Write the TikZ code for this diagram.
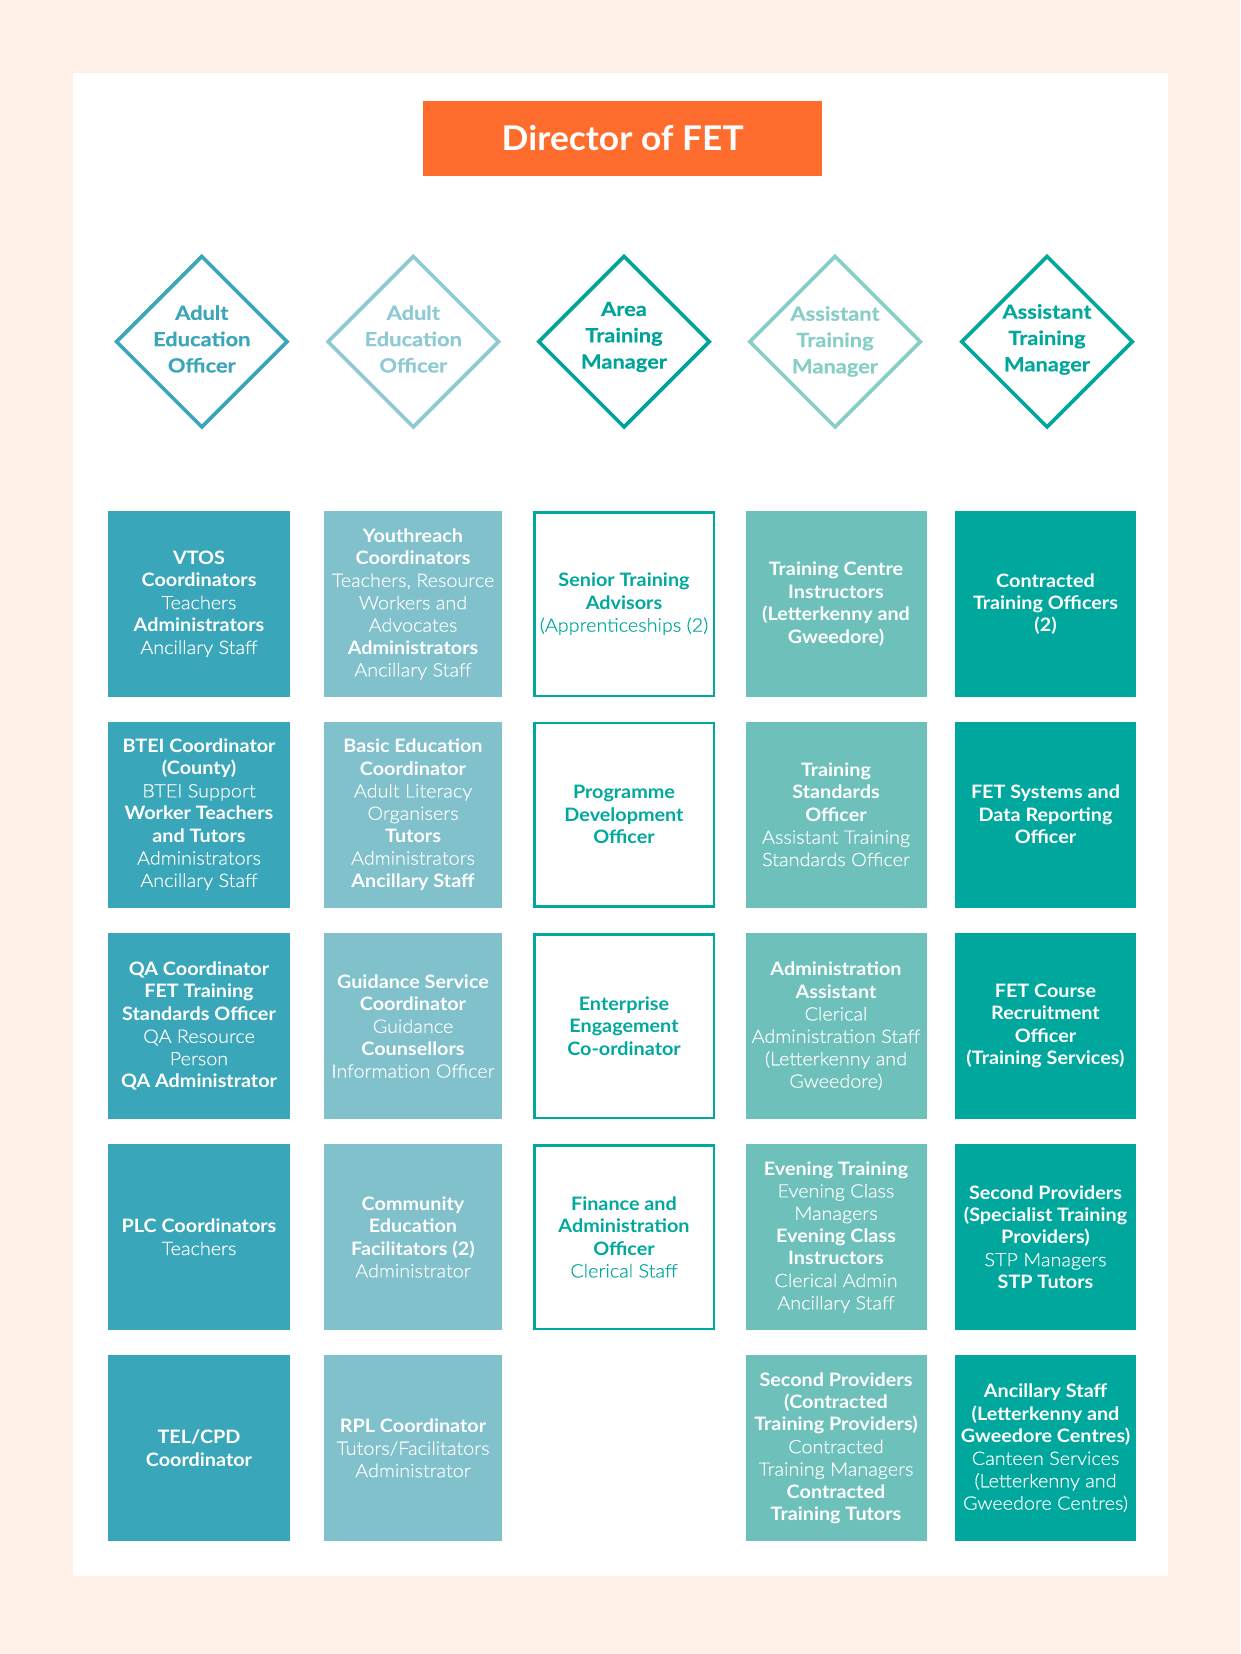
\documentclass[tikz,border=0pt]{standalone}
\usepackage{fontspec}
\setmainfont{Lato}
\newfontfamily\lightf{Lato Light}[FakeStretch=1.07,FakeBold=0.3]
\newfontfamily\boldf{Lato Bold}[FakeStretch=1.07]
\newfontfamily\diaf{Lato Bold}[FakeStretch=1.12,FakeBold=0.4]
\newfontfamily\headf{Lato Bold}[FakeStretch=1.04]
\usetikzlibrary{shapes.geometric}
\definecolor{bgc}{RGB}{254,240,231}
\definecolor{orangec}{RGB}{255,109,46}
\definecolor{cone}{RGB}{58,166,185}
\definecolor{ctwo}{RGB}{128,193,204}
\definecolor{cthree}{RGB}{0,168,157}
\definecolor{cfour}{RGB}{110,193,186}
\definecolor{cfive}{RGB}{0,167,157}
\definecolor{dtwo}{RGB}{141,202,212}
\definecolor{dthree}{RGB}{0,163,154}
\definecolor{dfour}{RGB}{134,206,198}
\newcommand{\Bf}[1]{{\boldf #1}}
\newcommand{\Lf}[1]{{\lightf #1}}
\tikzset{
  box/.style={rectangle, inner sep=0pt, minimum height=186pt, align=center,
    font=\fontsize{18.5}{22.4}\selectfont, text=white},
  colone/.style={box, fill=cone, minimum width=182pt},
  coltwo/.style={box, fill=ctwo, minimum width=178pt},
  colthree/.style={box, fill=white, draw=cthree, line width=2.5pt, minimum width=179.5pt, minimum height=183.5pt, text=cthree},
  colfour/.style={box, fill=cfour, minimum width=181pt},
  colfive/.style={box, fill=cfive, minimum width=181pt},
  dia/.style={diamond, aspect=1, inner sep=0pt, minimum width=172pt, minimum height=172pt, line width=3.6pt, fill=white},
  diatext/.style={align=center, inner sep=0pt, font=\diaf\fontsize{19.5}{26.3}\selectfont},
  head/.style={rectangle, fill=orangec, inner sep=0pt, minimum width=399.5pt, minimum height=75pt,
    text=white, font=\headf\fontsize{34}{40}\selectfont}
}
\begin{document}
\begin{tikzpicture}[x=1pt,y=-1pt]
\useasboundingbox (0,0) rectangle (1240,1654);
\fill[bgc] (0,0) rectangle (1240,1654);
\fill[white] (72.8,72.7) rectangle (1168,1575.7);

\node[head] (dir) at (622.7,138.2) {Director of FET};

% diamonds
\node[dia, draw=cone] (d1) at (201.8,341.7) {};
\node[dia, draw=dtwo] (d2) at (413.3,341.7) {};
\node[dia, draw=dthree] (d3) at (624,341.7) {};
\node[dia, draw=dfour] (d4) at (835,341.7) {};
\node[dia, draw=cfive] (d5) at (1047,341.7) {};
\node[diatext, text=cone] (t1) at (201.8,339) {Adult\\Education\\Officer};
\node[diatext, text=dtwo] (t2) at (413.3,339) {Adult\\Education\\Officer};
\node[diatext, text=dthree] (t3) at (624,337) {Area\\Training\\Manager};
\node[diatext, text=dfour] (t4) at (835,341.5) {Assistant\\Training\\Manager};
\node[diatext, text=cfive] (t5) at (1047,339.5) {Assistant\\Training\\Manager};

% column 1
\node[colone] (a1) at (199,604) {\Bf{VTOS}\\\Bf{Coordinators}\\\Lf{Teachers}\\\Bf{Administrators}\\\Lf{Ancillary Staff}};
\node[colone] (a2) at (199,814.5) {\Bf{BTEI Coordinator}\\\Bf{(County)}\\\Lf{BTEI Support}\\\Bf{Worker Teachers}\\\Bf{and Tutors}\\\Lf{Administrators}\\\Lf{Ancillary Staff}};
\node[colone] (a3) at (199,1026) {\Bf{QA Coordinator}\\\Bf{FET Training}\\\Bf{Standards Officer}\\\Lf{QA Resource}\\\Lf{Person}\\\Bf{QA Administrator}};
\node[colone] (a4) at (199,1237) {\Bf{PLC Coordinators}\\\Lf{Teachers}};
\node[colone] (a5) at (199,1448) {\Bf{TEL/CPD}\\\Bf{Coordinator}};

% column 2
\node[coltwo] (b1) at (413,604) {\Bf{Youthreach}\\\Bf{Coordinators}\\\Lf{Teachers, Resource}\\\Lf{Workers and}\\\Lf{Advocates}\\\Bf{Administrators}\\\Lf{Ancillary Staff}};
\node[coltwo] (b2) at (413,814.5) {\Bf{Basic Education}\\\Bf{Coordinator}\\\Lf{Adult Literacy}\\\Lf{Organisers}\\\Bf{Tutors}\\\Lf{Administrators}\\\Bf{Ancillary Staff}};
\node[coltwo] (b3) at (413,1026) {\Bf{Guidance Service}\\\Bf{Coordinator}\\\Lf{Guidance}\\\Bf{Counsellors}\\\Lf{Information Officer}};
\node[coltwo] (b4) at (413,1237) {\Bf{Community}\\\Bf{Education}\\\Bf{Facilitators (2)}\\\Lf{Administrator}};
\node[coltwo] (b5) at (413,1448) {\Bf{RPL Coordinator}\\\Lf{Tutors/Facilitators}\\\Lf{Administrator}};

% column 3
\node[colthree] (c1) at (624,604) {\Bf{Senior Training}\\\Bf{Advisors}\\\Lf{(Apprenticeships (2)}};
\node[colthree] (c2) at (624,814.5) {\Bf{Programme}\\\Bf{Development}\\\Bf{Officer}};
\node[colthree] (c3) at (624,1026) {\Bf{Enterprise}\\\Bf{Engagement}\\\Bf{Co-ordinator}};
\node[colthree] (c4) at (624,1237) {\Bf{Finance and}\\\Bf{Administration}\\\Bf{Officer}\\\Lf{Clerical Staff}};

% column 4
\node[colfour] (e1) at (836,604) {\Bf{Training Centre}\\\Bf{Instructors}\\\Bf{(Letterkenny and}\\\Bf{Gweedore)}};
\node[colfour] (e2) at (836,814.5) {\Bf{Training}\\\Bf{Standards}\\\Bf{Officer}\\\Lf{Assistant Training}\\\Lf{Standards Officer}};
\node[colfour] (e3) at (836,1026) {\Bf{Administration}\\\Bf{Assistant}\\\Lf{Clerical}\\\Lf{Administration Staff}\\\Lf{(Letterkenny and}\\\Lf{Gweedore)}};
\node[colfour] (e4) at (836,1237) {\Bf{Evening Training}\\\Lf{Evening Class}\\\Lf{Managers}\\\Bf{Evening Class}\\\Bf{Instructors}\\\Lf{Clerical Admin}\\\Lf{Ancillary Staff}};
\node[colfour] (e5) at (836,1448) {\Bf{Second Providers}\\\Bf{(Contracted}\\\Bf{Training Providers)}\\\Lf{Contracted}\\\Lf{Training Managers}\\\Bf{Contracted}\\\Bf{Training Tutors}};

% column 5
\node[colfive] (f1) at (1045.5,604) {\Bf{Contracted}\\\Bf{Training Officers}\\\Bf{(2)}};
\node[colfive] (f2) at (1045.5,814.5) {\Bf{FET Systems and}\\\Bf{Data Reporting}\\\Bf{Officer}};
\node[colfive] (f3) at (1045.5,1026) {\Bf{FET Course}\\\Bf{Recruitment}\\\Bf{Officer}\\\Bf{(Training Services)}};
\node[colfive] (f4) at (1045.5,1237) {\Bf{Second Providers}\\\Bf{(Specialist Training}\\\Bf{Providers)}\\\Lf{STP Managers}\\\Bf{STP Tutors}};
\node[colfive] (f5) at (1045.5,1448) {\Bf{Ancillary Staff}\\\Bf{(Letterkenny and}\\\Bf{Gweedore Centres)}\\\Lf{Canteen Services}\\\Lf{(Letterkenny and}\\\Lf{Gweedore Centres)}};
\end{tikzpicture}
\end{document}
